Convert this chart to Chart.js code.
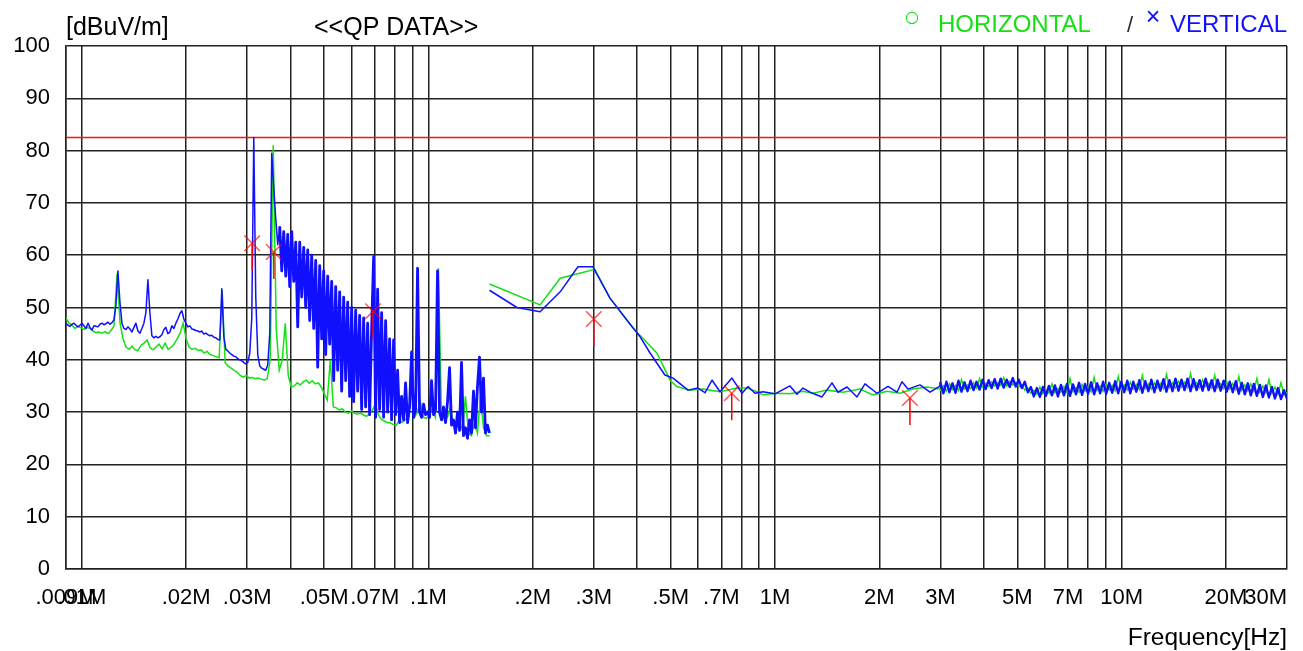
<!DOCTYPE html>
<html>
<head>
<meta charset="utf-8">
<title>QP DATA</title>
<script src="https://cdn.jsdelivr.net/npm/chart.js@4.4.1/dist/chart.umd.min.js"></script>
<style>
  html, body { margin: 0; padding: 0; background: #fff; }
  #wrap { position: relative; width: 1303px; height: 651px; }
</style>
</head>
<body>
<div id="wrap"><canvas id="emi"></canvas></div>
<script>
// frequencies in MHz, levels in dBuV/m

// 9 kHz - 150 kHz sweep
const sweepA = [0.009, 0.15];
const vertA = [
  47.0, 46.6, 46.4, 46.8, 47.0, 46.6, 46.3, 46.6, 47.0, 46.5,
  46.0, 47.0, 46.2, 45.7, 46.5, 46.4, 46.3, 46.8, 47.0, 46.7,
  46.9, 47.2, 46.8, 47.1, 47.6, 50.5, 57.0, 51.0, 47.0, 46.0,
  45.8, 46.3, 45.9, 45.3, 46.2, 47.0, 45.5, 45.1, 46.0, 47.0,
  49.0, 55.3, 49.0, 44.6, 44.2, 44.5, 44.2, 44.4, 44.8, 45.8,
  46.2, 45.0, 45.3, 46.5, 46.0, 47.0, 47.8, 48.8, 49.4, 47.8,
  47.0, 46.3, 46.5, 45.9, 45.8, 45.6, 45.5, 45.3, 45.5, 44.9,
  45.1, 44.8, 44.6, 44.7, 44.3, 44.2, 43.9, 43.8, 53.6, 44.5,
  42.0, 41.7, 41.3, 41.0, 40.7, 40.6, 40.2, 40.0, 39.8, 39.5,
  39.2, 39.5, 41.3, 48.0, 82.5, 52.0, 41.0, 38.8, 38.4, 38.2,
  38.0, 39.0, 45.0, 79.5, 73.0, 67.0, 62.0, 65.5, 57.0, 64.5,
  56.0, 64.0, 54.0, 64.5, 55.0, 62.5, 46.3, 62.5, 52.0, 61.5,
  50.0, 61.0, 47.5, 60.0, 46.0, 59.0, 38.6, 58.0, 44.0, 57.0,
  41.0, 56.0, 43.0, 55.0, 36.0, 54.0, 38.0, 53.0, 34.0, 52.0,
  36.0, 51.0, 33.0, 50.0, 32.0, 49.5, 34.0, 48.5, 30.5, 48.0,
  31.0, 47.0, 29.5, 46.0, 59.7, 29.0, 53.5, 30.5, 49.0, 29.0,
  47.5, 30.0, 44.0, 28.5, 43.8, 29.5, 38.0, 28.0, 33.0, 28.5,
  35.6, 28.0, 31.0, 41.5, 29.0, 30.5, 57.5, 30.0, 29.0, 31.5,
  29.5, 30.0, 29.0, 36.0, 29.5, 30.5, 57.0, 30.0, 28.5, 31.0,
  28.0, 32.0, 38.5, 27.5, 28.5, 26.0, 30.0, 26.5, 39.5, 25.5,
  27.0, 25.0, 28.5, 26.0, 34.0, 27.0, 35.0, 40.5, 30.0, 36.5,
  26.0, 27.5, 26.0
];
const horizA = [
  48.0, 47.0, 46.6, 46.0, 46.4, 46.1, 45.8, 46.2, 46.0, 45.5,
  45.2, 45.3, 45.1, 45.4, 45.0, 45.6, 46.5, 56.5, 47.0, 44.0,
  42.4, 42.0, 42.6, 41.9, 41.8, 42.8, 43.2, 43.8, 42.3, 41.9,
  42.5, 43.0, 42.1, 43.2, 42.0, 42.4, 43.0, 44.0, 45.1, 47.0,
  44.0, 42.4, 42.0, 42.2, 41.8, 41.9, 41.3, 41.6, 41.0, 40.8,
  40.6, 40.4, 53.3, 39.4, 38.8, 38.4, 38.0, 37.6, 37.0, 36.7,
  37.0, 36.5, 36.6, 36.4, 36.5, 36.3, 36.1, 36.4, 40.0, 81.0,
  46.0, 38.0, 40.0, 47.0, 37.0, 34.8, 35.0, 35.6, 35.2, 35.8,
  36.1, 35.5, 36.0, 35.4, 35.6, 34.8, 33.5, 32.3, 40.0, 31.0,
  30.8, 30.4, 30.6, 30.0, 29.8, 30.2, 29.8, 29.6, 29.8, 29.5,
  29.2, 29.6, 30.4, 31.5, 29.5, 28.6, 28.3, 28.0, 27.9, 27.6,
  27.5, 28.5, 28.0, 28.6, 29.0, 35.0, 29.0, 30.0, 32.0, 29.0,
  28.8, 29.5, 30.5, 29.0, 57.5, 29.5, 28.5, 29.0, 31.0, 27.5,
  27.0, 28.5, 26.5, 33.0, 26.0, 25.5, 28.0, 26.0, 33.0, 27.0,
  25.5, 25.5
];

// 150 kHz - 3 MHz peak points
const vertBFreq = [0.15, 0.18, 0.21, 0.24, 0.27, 0.298, 0.334, 0.38, 0.408, 0.436,
  0.481, 0.508, 0.561, 0.599, 0.628, 0.658, 0.694, 0.751, 0.803, 0.836,
  0.875, 0.923, 1.0, 1.104, 1.157, 1.204, 1.262, 1.366, 1.46, 1.519,
  1.613, 1.723, 1.818, 1.968, 2.118, 2.248, 2.324, 2.418, 2.619, 2.8, 3.0];
const vertBLevel = [53.3, 50.0, 49.2, 53.0, 57.8, 57.8, 51.8, 47.0, 44.4, 41.3,
  37.1, 36.5, 34.2, 34.6, 33.7, 36.1, 33.9, 36.5, 33.6, 34.9,
  33.6, 33.9, 33.5, 35.0, 33.4, 34.6, 33.8, 32.9, 35.6, 33.8,
  34.8, 32.9, 35.4, 33.6, 34.9, 33.8, 35.8, 34.4, 35.2, 33.8, 35.0];
const horizBFreq = [0.15, 0.21, 0.24, 0.302, 0.334, 0.389, 0.456, 0.498, 0.521, 0.568,
  0.619, 0.694, 0.777, 0.83, 0.887, 0.923, 1.013, 1.104, 1.204, 1.287,
  1.412, 1.571, 1.759, 1.917, 2.104, 2.293, 2.5, 2.744, 3.0];
const horizBLevel = [54.5, 50.5, 55.6, 57.3, 51.8, 46.1, 41.3, 36.1, 34.9, 34.2,
  34.4, 33.9, 34.6, 34.6, 33.9, 33.3, 33.6, 33.5, 34.0, 33.6,
  34.2, 33.8, 34.4, 33.3, 34.0, 33.6, 34.4, 34.8, 34.4];

// 3 MHz - 30 MHz sweep
const sweepC = [3, 30];
const vertC = [
  35.6, 33.6, 35.8, 33.8, 35.5, 33.7, 36.0, 33.9, 35.7, 34.0,
  36.0, 34.2, 35.8, 34.3, 36.2, 34.4, 36.1, 34.6, 36.3, 34.5,
  36.4, 34.7, 36.2, 34.8, 36.5, 34.9, 36.2, 34.6, 35.8, 33.8,
  34.8, 33.0, 34.6, 32.9, 34.8, 33.1, 35.0, 33.2, 35.1, 33.0,
  35.2, 33.2, 35.4, 33.1, 35.3, 33.4, 35.6, 33.3, 35.4, 33.5,
  35.7, 33.4, 35.5, 33.6, 35.8, 33.5, 35.6, 33.7, 35.9, 33.6,
  35.8, 33.8, 36.0, 33.6, 35.8, 33.9, 36.1, 33.7, 35.9, 34.0,
  36.2, 33.8, 36.0, 34.1, 36.3, 33.9, 36.1, 34.0, 36.4, 34.1,
  36.2, 34.2, 36.4, 34.0, 36.3, 34.2, 36.1, 34.1, 36.4, 34.2,
  36.1, 34.0, 36.2, 34.1, 36.0, 33.9, 35.8, 33.8, 35.9, 33.5,
  35.6, 33.4, 35.5, 33.2, 35.4, 33.1, 35.2, 32.9, 35.1, 32.8,
  34.8, 32.6, 34.6, 32.5, 34.2, 32.6
];
const horizC = [
  34.2, 35.0, 34.0, 35.4, 34.3, 35.1, 34.1, 36.2, 34.4, 35.2,
  34.5, 35.6, 34.6, 36.4, 34.8, 35.5, 34.9, 35.8, 35.0, 35.6,
  35.1, 36.6, 35.0, 35.9, 35.2, 35.7, 34.8, 35.2, 34.2, 34.6,
  33.6, 34.2, 33.4, 34.8, 33.5, 34.3, 33.6, 35.4, 33.7, 34.5,
  33.8, 34.9, 33.7, 36.4, 33.9, 34.7, 33.8, 35.3, 34.0, 34.9,
  33.9, 36.6, 34.1, 35.0, 34.0, 35.4, 34.2, 35.1, 34.1, 36.8,
  34.3, 35.2, 34.2, 35.7, 34.4, 35.3, 34.3, 37.0, 34.5, 35.4,
  34.4, 35.6, 34.6, 35.5, 34.5, 37.2, 34.7, 35.6, 34.6, 35.9,
  34.8, 35.7, 34.7, 37.3, 34.8, 35.6, 34.6, 36.2, 34.9, 35.5,
  34.6, 37.0, 34.7, 35.4, 34.5, 35.8, 34.4, 35.5, 34.3, 36.8,
  34.2, 35.2, 34.1, 35.4, 34.0, 36.4, 33.8, 35.0, 33.7, 36.2,
  33.6, 34.8, 33.4, 35.6, 33.3, 33.8
];

// quasi-peak results
const qpFreq = [0.031, 0.0358, 0.0692, 0.300, 0.75, 2.45];
const qpLevel = [62.3, 60.6, 49.3, 47.8, 33.6, 32.7];

const limitLevel = 82.5;

// axis grid and labels
const gridFreq = [0.009,
  0.01, 0.02, 0.03, 0.04, 0.05, 0.06, 0.07, 0.08, 0.09,
  0.1, 0.2, 0.3, 0.4, 0.5, 0.6, 0.7, 0.8, 0.9,
  1, 2, 3, 4, 5, 6, 7, 8, 9,
  10, 20, 30];
const tickFreq = [0.009, 0.01, 0.02, 0.03, 0.05, 0.07, 0.1, 0.2, 0.3, 0.5, 0.7,
  1, 2, 3, 5, 7, 10, 20, 30];
const tickText = ['.009M', '.01M', '.02M', '.03M', '.05M', '.07M', '.1M', '.2M', '.3M', '.5M', '.7M',
  '1M', '2M', '3M', '5M', '7M', '10M', '20M', '30M'];

const FONT = '"Liberation Sans", Arial, sans-serif';
const GREEN = '#14e014';
const BLUE = '#1010ff';

function sweep(range, levels) {
  const [f0, f1] = range;
  const n = levels.length - 1;
  return levels.map((y, i) => ({ x: f0 * Math.pow(f1 / f0, i / n), y }));
}

function pairs(freq, level) {
  return freq.map((f, i) => ({ x: f, y: level[i] }));
}

function trace(a, bFreq, bLevel, c) {
  return [
    ...sweep(sweepA, a),
    { x: sweepA[1], y: null },
    ...pairs(bFreq, bLevel),
    ...sweep(sweepC, c),
  ];
}

// heavier stroke where the sweep is dense (harmonic comb and the HF noise floor)
function segWidth(ctx) {
  const f = ctx.chart.data.datasets[ctx.datasetIndex].data[ctx.p0DataIndex].x;
  if (f > 0.037 && f < sweepA[1]) return 2.8;
  return f >= sweepC[0] ? 2.4 : 1.5;
}

const chartText = {
  id: 'chartText',
  afterDatasetsDraw(chart) {
    // drop line under each QP marker
    const ctx = chart.ctx;
    const meta = chart.getDatasetMeta(0);
    ctx.save();
    ctx.strokeStyle = '#ff0000';
    ctx.lineWidth = 1.5;
    meta.data.forEach((pt) => {
      ctx.beginPath();
      ctx.moveTo(pt.x, pt.y);
      ctx.lineTo(pt.x, pt.y + 27);
      ctx.stroke();
    });
    ctx.restore();
  },
  afterDraw(chart) {
    const ctx = chart.ctx;
    const xScale = chart.scales.x;
    const area = chart.chartArea;
    ctx.save();

    // frequency labels
    ctx.fillStyle = '#000';
    ctx.font = `22px ${FONT}`;
    ctx.textBaseline = 'middle';
    tickFreq.forEach((f, i) => {
      const px = xScale.getPixelForValue(f);
      ctx.textAlign = px >= area.right - 1 ? 'right' : 'center';
      ctx.fillText(tickText[i], Math.min(px, area.right), area.bottom + 29);
    });

    ctx.textBaseline = 'alphabetic';
    ctx.font = `24.5px ${FONT}`;
    ctx.textAlign = 'right';
    ctx.fillText('Frequency[Hz]', area.right, 645);

    ctx.font = `25px ${FONT}`;
    ctx.textAlign = 'left';
    ctx.fillText('[dBuV/m]', area.left, 35);
    ctx.fillText('<<QP DATA>>', 314, 35);

    // polarisation legend
    ctx.fillStyle = GREEN;
    ctx.font = `24px ${FONT}`;
    ctx.fillText('HORIZONTAL', 938, 32);
    ctx.font = `16px "DejaVu Sans", sans-serif`;
    ctx.textAlign = 'center';
    ctx.textBaseline = 'middle';
    ctx.fillText('\u25CB', 912, 18);

    ctx.fillStyle = '#2a2a2a';
    ctx.font = `22px ${FONT}`;
    ctx.textBaseline = 'alphabetic';
    ctx.fillText('/', 1130, 32);

    ctx.fillStyle = BLUE;
    ctx.font = `25px ${FONT}`;
    ctx.textBaseline = 'middle';
    ctx.fillText('\u00D7', 1153, 18);

    ctx.font = `24px ${FONT}`;
    ctx.textAlign = 'right';
    ctx.textBaseline = 'alphabetic';
    ctx.fillText('VERTICAL', area.right, 32);

    ctx.restore();
  },
};

Chart.defaults.font.family = FONT;

new Chart(document.getElementById('emi'), {
  type: 'line',
  data: {
    datasets: [
      {
        label: 'QP',
        data: pairs(qpFreq, qpLevel),
        showLine: false,
        pointStyle: 'crossRot',
        pointRadius: 11,
        pointBorderWidth: 1.4,
        borderColor: 'rgba(255, 0, 0, 0.7)',
        backgroundColor: 'transparent',
      },
      {
        label: 'VERTICAL',
        data: trace(vertA, vertBFreq, vertBLevel, vertC),
        borderColor: BLUE,
        borderWidth: 1.5,
        borderJoinStyle: 'round',
        segment: { borderWidth: segWidth },
        pointRadius: 0,
        spanGaps: false,
      },
      {
        label: 'HORIZONTAL',
        data: trace(horizA, horizBFreq, horizBLevel, horizC),
        borderColor: GREEN,
        borderWidth: 1.5,
        pointRadius: 0,
        spanGaps: false,
      },
      {
        label: 'Limit',
        data: [{ x: gridFreq[0], y: limitLevel }, { x: gridFreq[gridFreq.length - 1], y: limitLevel }],
        borderColor: '#ff1010',
        borderWidth: 1.4,
        pointRadius: 0,
      },
    ],
  },
  options: {
    responsive: true,
    maintainAspectRatio: false,
    animation: false,
    devicePixelRatio: 1,
    layout: { padding: { left: 13, right: 16, top: 46, bottom: 82 } },
    plugins: {
      legend: { display: false },
      tooltip: { enabled: false },
    },
    scales: {
      x: {
        type: 'logarithmic',
        min: 0.009,
        max: 30,
        afterBuildTicks: (scale) => {
          scale.ticks = gridFreq.map((value) => ({ value }));
        },
        ticks: { display: false },
        grid: { color: '#222', lineWidth: 1.5, drawTicks: false },
        border: { display: true, color: '#222', width: 1.5 },
      },
      y: {
        min: 0,
        max: 100,
        afterFit: (scale) => {
          scale.width = 53;
        },
        ticks: { stepSize: 10, color: '#000', font: { size: 22 }, padding: 16 },
        grid: { color: '#222', lineWidth: 1.5, drawTicks: false },
        border: { display: true, color: '#222', width: 1.5 },
      },
    },
  },
  plugins: [chartText],
});
</script>
</body>
</html>
